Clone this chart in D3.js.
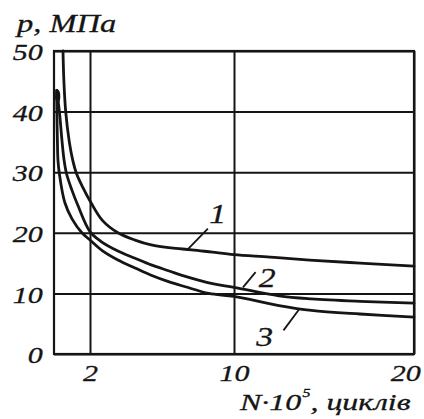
<!DOCTYPE html>
<html><head><meta charset="utf-8">
<script src="https://cdn.jsdelivr.net/npm/d3@7"></script>
<style>body{margin:0;background:#fff}svg{display:block}</style></head>
<body><svg id="c" width="424" height="419"></svg>
<script>
// ---- data ----
const xTicks = [2, 10, 20];
const yTicks = [0, 10, 20, 30, 40, 50];
const yLabel = "p, МПа";
const xLabelMain = "N·10";
const xLabelExp = "5";
const xLabelRest = ", циклів";

const curve1X = [0.5, 0.55, 0.65, 0.85, 1.04, 1.26, 1.6, 2.05, 2.7, 3.55, 4.5, 5.4, 6.5, 7.65, 8.8, 10, 12, 14.2, 17, 20];
const curve1Y = [50, 45, 40, 35, 32, 29.7, 27.5, 25, 22, 20, 18.8, 18, 17.5, 17.2, 16.8, 16.4, 16, 15.5, 15, 14.5];

const curve2X = [0.15, 0.3, 0.45, 0.56, 0.7, 1.0, 1.33, 2.0, 2.6, 3.55, 4.5, 5.4, 6.4, 7.3, 8.8, 10, 12.5, 14.3, 17, 20];
const curve2Y = [43.5, 40, 35, 32, 29.7, 27, 24.5, 20.2, 18.6, 17.0, 15.8, 14.7, 13.7, 12.8, 11.6, 11.0, 9.6, 9.1, 8.7, 8.4];

const curve3X = [0.15, 0.16, 0.19, 0.22, 0.3, 0.6, 1.0, 1.55, 2, 2.7, 3.55, 4.5, 5.4, 6.4, 7.3, 8.6, 10, 12.5, 14.3, 17, 20];
const curve3Y = [43.5, 40, 35, 32, 29.7, 25, 22.3, 20, 18.8, 17, 15.5, 14.2, 13, 11.9, 11.1, 10, 9.5, 8.0, 7.2, 6.6, 6.1];

const curveNames = ["1", "2", "3"];
// leader lines: start (on curve) and end, and label centre, in data units
const leaderX0 = [7.4, 10.5, 13.6];
const leaderY0 = [17.2, 11.0, 7.3];
const leaderX1 = [8.55, 11.2, 12.75];
const leaderY1 = [20.7, 13.5, 3.9];
const nameX = [9.1, 11.85, 11.7];
const nameY = [23.3, 12.6, 3.0];

// ---- drawing ----
const svg = d3.select("#c");
const L = 54, R = 414, T = 51, B = 354;
const x = d3.scaleLinear().domain([0, 20]).range([L, R]);
const y = d3.scaleLinear().domain([0, 50]).range([B, T]);
const SX = 1.25;
const FONT = "Liberation Serif, Times New Roman, serif";
const INK = "#151515";

// grid via axes
const gx = svg.append("g").attr("transform", `translate(0,${B})`)
  .call(d3.axisBottom(x).tickValues(xTicks).tickSize(-(B - T)).tickPadding(10).tickFormat(d3.format("d")));
const gy = svg.append("g").attr("transform", `translate(${L},0)`)
  .call(d3.axisLeft(y).tickValues(yTicks).tickSize(-(R - L)).tickPadding(9).tickFormat(d3.format("d")));
[gx, gy].forEach(g => {
  g.select(".domain").remove();
  g.selectAll(".tick line").attr("stroke", INK).attr("stroke-width", 2);
  g.selectAll(".tick text").attr("fill", INK).attr("font-family", FONT)
    .attr("font-style", "italic").attr("font-size", 24)
    .attr("stroke", INK).attr("stroke-width", 0.3)
    .attr("transform", `scale(${SX},1)`);
});
gx.selectAll(".tick text").filter(d => d === 20).attr("x", -7);
gy.selectAll(".tick text").attr("dy", "0.36em");

// frame
svg.append("rect").attr("x", L).attr("y", T).attr("width", R - L).attr("height", B - T)
  .attr("fill", "none").attr("stroke", INK).attr("stroke-width", 2.2);

// curves
const line = d3.line().x(d => x(d[0])).y(d => y(d[1])).curve(d3.curveCatmullRom.alpha(0.5));
const curves = [
  d3.zip(curve1X, curve1Y),
  d3.zip(curve2X, curve2Y),
  d3.zip(curve3X, curve3Y)
];
svg.append("g").selectAll("path").data(curves).join("path")
  .attr("d", line).attr("fill", "none").attr("stroke", INK)
  .attr("stroke-width", 2.8).attr("stroke-linejoin", "round").attr("stroke-linecap", "round");

// start blob for curves 2/3
svg.append("ellipse").attr("cx", x(curve2X[0]) + 1).attr("cy", y(curve2Y[0]) + 6)
  .attr("rx", 2.6).attr("ry", 7).attr("fill", INK);

// leaders and names
curveNames.forEach((n, i) => {
  svg.append("line")
    .attr("x1", x(leaderX0[i])).attr("y1", y(leaderY0[i]))
    .attr("x2", x(leaderX1[i])).attr("y2", y(leaderY1[i]))
    .attr("stroke", INK).attr("stroke-width", 1.8);
  svg.append("g").attr("transform", `translate(${x(nameX[i])},${y(nameY[i])}) scale(${SX},1)`)
    .append("text").attr("text-anchor", "middle").attr("dy", "0.36em")
    .attr("font-family", FONT).attr("font-style", "italic").attr("font-size", 27)
    .attr("stroke", INK).attr("stroke-width", 0.3)
    .attr("fill", INK).text(n);
});

// axis titles
svg.append("g").attr("transform", `translate(17,32) scale(${SX},1)`)
  .append("text").attr("font-family", FONT).attr("font-style", "italic").attr("font-size", 26)
  .attr("stroke", INK).attr("stroke-width", 0.3)
  .attr("fill", INK).text(yLabel);

const xt = svg.append("g").attr("transform", `translate(240,410) scale(1.33,1)`)
  .append("text").attr("font-family", FONT).attr("font-style", "italic").attr("font-size", 24)
  .attr("stroke", INK).attr("stroke-width", 0.3)
  .attr("fill", INK);
xt.append("tspan").text(xLabelMain);
xt.append("tspan").attr("font-size", 12).attr("dy", -13).attr("dx", 1).text(xLabelExp);
xt.append("tspan").attr("dy", 13).text(xLabelRest);
</script>
</body></html>
